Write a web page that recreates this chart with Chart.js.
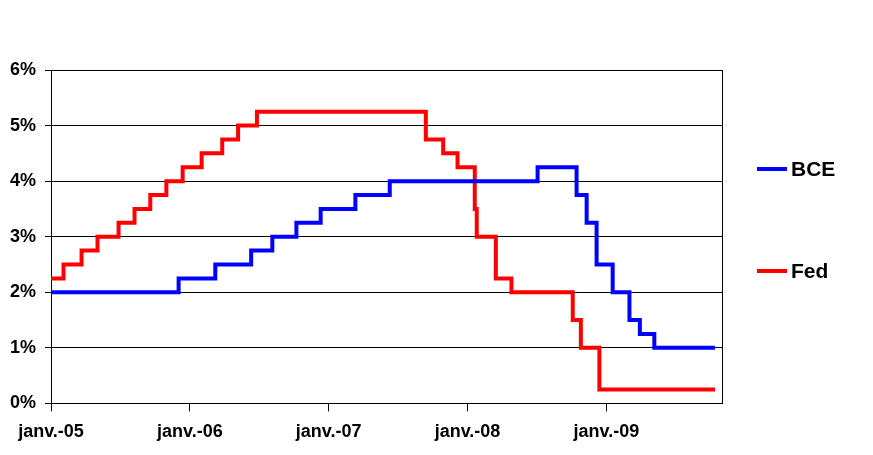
<!DOCTYPE html>
<html>
<head>
<meta charset="utf-8">
<script src="https://cdn.jsdelivr.net/npm/chart.js@4"></script>
<style>
  html, body { margin: 0; padding: 0; background: #fff; }
  .wrap { position: relative; width: 873px; height: 455px; }
  .legend { position: absolute; left: 757px; top: 0; font: bold 21px "Liberation Sans", Arial, sans-serif; color: #000; }
  .legend div { position: absolute; white-space: nowrap; display: flex; align-items: center; }
  .legend span.line { display: inline-block; width: 30px; height: 4px; margin-right: 4px; }
</style>
</head>
<body>
<div class="wrap">
  <canvas id="chart" width="873" height="455"></canvas>
  <div class="legend" id="legend"></div>
</div>
<script>
// months since janv.-05
const xTickValues = [0, 12, 24, 36, 48]
const xTickLabels = ['janv.-05', 'janv.-06', 'janv.-07', 'janv.-08', 'janv.-09']

const bceMonths = [0, 11.03, 14.2, 17.3, 19.13, 21.21, 23.31, 26.31, 29.28, 42.06, 45.43, 46.3, 47.16, 48.55, 50.0, 50.9, 52.15, 57.4]
const bceRates  = [2.0, 2.25, 2.5, 2.75, 3.0, 3.25, 3.5, 3.75, 4.0, 4.25, 3.75, 3.25, 2.5, 2.0, 1.5, 1.25, 1.0, 1.0]

const fedMonths = [0, 1.08, 2.64, 4.02, 5.84, 7.22, 8.58, 9.97, 11.38, 13.02, 14.8, 16.17, 17.8, 32.4, 33.9, 35.14, 36.63, 36.8, 38.45, 39.8, 45.1, 45.8, 47.4, 57.4]
const fedRates  = [2.25, 2.5, 2.75, 3.0, 3.25, 3.5, 3.75, 4.0, 4.25, 4.5, 4.75, 5.0, 5.25, 4.75, 4.5, 4.25, 3.5, 3.0, 2.25, 2.0, 1.5, 1.0, 0.25, 0.25]

const seriesNames = ['BCE', 'Fed']
const seriesColors = ['#0000ff', '#ff0000']

function toPoints(xs, ys) {
    return xs.map((x, i) => ({x: x, y: ys[i]}))
}

const font = {family: '"Liberation Sans", Arial, sans-serif', size: 18, weight: 'bold'}

// cadre autour de la zone de tracé
const plotBorder = {
    id: 'plotBorder',
    beforeDatasetsDraw(chart) {
        const a = chart.chartArea
        const ctx = chart.ctx
        ctx.save()
        ctx.strokeStyle = '#000'
        ctx.lineWidth = 1
        ctx.strokeRect(Math.round(a.left) + 0.5, Math.round(a.top) + 0.5, Math.round(a.right - a.left), Math.round(a.bottom - a.top))
        ctx.restore()
    }
}

const data = {
    datasets: [
        {label: seriesNames[0], data: toPoints(bceMonths, bceRates), borderColor: seriesColors[0], backgroundColor: seriesColors[0]},
        {label: seriesNames[1], data: toPoints(fedMonths, fedRates), borderColor: seriesColors[1], backgroundColor: seriesColors[1]}
    ]
}
data.datasets.forEach(d => {
    d.stepped = 'before'
    d.borderWidth = 4
    d.pointRadius = 0
    d.borderJoinStyle = 'miter'
    d.borderCapStyle = 'butt'
})

const config = {
    type: 'line',
    data: data,
    options: {
        responsive: false,
        animation: false,
        devicePixelRatio: 1,
        layout: {padding: {top: 70, left: 1, right: 151, bottom: 2}},
        plugins: {legend: {display: false}, tooltip: {enabled: false}},
        scales: {
            x: {
                type: 'linear',
                min: 0,
                max: 58,
                afterBuildTicks: scale => { scale.ticks = xTickValues.map(v => ({value: v})) },
                ticks: {
                    font: font, color: '#000', padding: 10, maxRotation: 0, autoSkip: false,
                    callback: v => xTickLabels[xTickValues.indexOf(v)]
                },
                grid: {drawOnChartArea: false, tickLength: 8, color: '#000'},
                border: {color: '#000', width: 1}
            },
            y: {
                min: 0,
                max: 6,
                ticks: {stepSize: 1, font: font, color: '#000', padding: 9, callback: v => v + '%'},
                grid: {color: '#000', lineWidth: 1, tickLength: 6},
                border: {color: '#000', width: 1}
            }
        }
    },
    plugins: [plotBorder]
}

const chart = new Chart(document.getElementById('chart'), config)

// légende à droite
const legend = document.getElementById('legend')
const legendTops = [157, 259]
seriesNames.forEach((name, i) => {
    const item = document.createElement('div')
    item.style.top = legendTops[i] + 'px'
    const line = document.createElement('span')
    line.className = 'line'
    line.style.background = seriesColors[i]
    item.appendChild(line)
    item.appendChild(document.createTextNode(name))
    legend.appendChild(item)
})
</script>
</body>
</html>
